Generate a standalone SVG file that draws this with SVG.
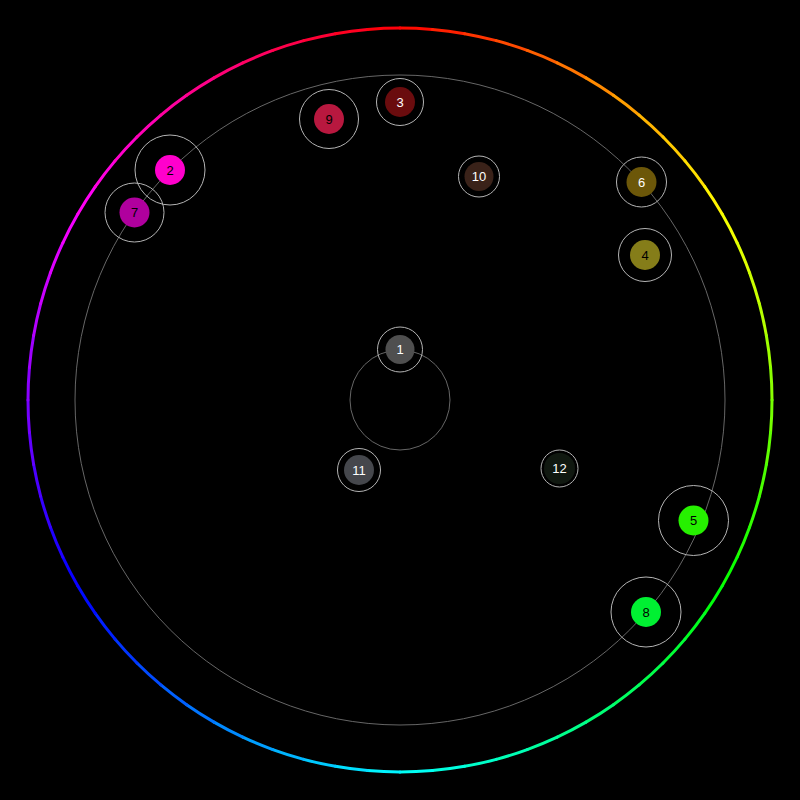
<svg xmlns="http://www.w3.org/2000/svg" width="800" height="800" viewBox="0 0 800 800">
<style>
.hue{fill:none;stroke-width:3;stroke-linecap:round}
.guide{fill:none;stroke:#666;stroke-width:1}
.halo{fill:none;stroke:#b4b4b4;stroke-width:1}
.lbl{font-family:"Liberation Sans",Arial,sans-serif;font-size:13px;text-anchor:middle;dominant-baseline:central}
.dk{fill:#000}
.lt{fill:#fff}
</style>
<rect width="800" height="800" fill="#000"/>
<g id="hue-ring">
<path class="hue" stroke="hsl(2.5,100%,50%)" d="M400 28A372 372 0 0 1 432.42 29.42"/>
<path class="hue" stroke="hsl(7.5,100%,50%)" d="M432.42 29.42A372 372 0 0 1 464.60 33.65"/>
<path class="hue" stroke="hsl(12.5,100%,50%)" d="M464.60 33.65A372 372 0 0 1 496.28 40.67"/>
<path class="hue" stroke="hsl(17.5,100%,50%)" d="M496.28 40.67A372 372 0 0 1 527.23 50.44"/>
<path class="hue" stroke="hsl(22.5,100%,50%)" d="M527.23 50.44A372 372 0 0 1 557.21 62.85"/>
<path class="hue" stroke="hsl(27.5,100%,50%)" d="M557.21 62.85A372 372 0 0 1 586.00 77.84"/>
<path class="hue" stroke="hsl(32.5,100%,50%)" d="M586.00 77.84A372 372 0 0 1 613.37 95.28"/>
<path class="hue" stroke="hsl(37.5,100%,50%)" d="M613.37 95.28A372 372 0 0 1 639.12 115.03"/>
<path class="hue" stroke="hsl(42.5,100%,50%)" d="M639.12 115.03A372 372 0 0 1 663.04 136.96"/>
<path class="hue" stroke="hsl(47.5,100%,50%)" d="M663.04 136.96A372 372 0 0 1 684.97 160.88"/>
<path class="hue" stroke="hsl(52.5,100%,50%)" d="M684.97 160.88A372 372 0 0 1 704.72 186.63"/>
<path class="hue" stroke="hsl(57.5,100%,50%)" d="M704.72 186.63A372 372 0 0 1 722.16 214.00"/>
<path class="hue" stroke="hsl(62.5,100%,50%)" d="M722.16 214.00A372 372 0 0 1 737.15 242.79"/>
<path class="hue" stroke="hsl(67.5,100%,50%)" d="M737.15 242.79A372 372 0 0 1 749.56 272.77"/>
<path class="hue" stroke="hsl(72.5,100%,50%)" d="M749.56 272.77A372 372 0 0 1 759.33 303.72"/>
<path class="hue" stroke="hsl(77.5,100%,50%)" d="M759.33 303.72A372 372 0 0 1 766.35 335.40"/>
<path class="hue" stroke="hsl(82.5,100%,50%)" d="M766.35 335.40A372 372 0 0 1 770.58 367.58"/>
<path class="hue" stroke="hsl(87.5,100%,50%)" d="M770.58 367.58A372 372 0 0 1 772 400"/>
<path class="hue" stroke="hsl(92.5,100%,50%)" d="M772 400A372 372 0 0 1 770.58 432.42"/>
<path class="hue" stroke="hsl(97.5,100%,50%)" d="M770.58 432.42A372 372 0 0 1 766.35 464.60"/>
<path class="hue" stroke="hsl(102.5,100%,50%)" d="M766.35 464.60A372 372 0 0 1 759.33 496.28"/>
<path class="hue" stroke="hsl(107.5,100%,50%)" d="M759.33 496.28A372 372 0 0 1 749.56 527.23"/>
<path class="hue" stroke="hsl(112.5,100%,50%)" d="M749.56 527.23A372 372 0 0 1 737.15 557.21"/>
<path class="hue" stroke="hsl(117.5,100%,50%)" d="M737.15 557.21A372 372 0 0 1 722.16 586.00"/>
<path class="hue" stroke="hsl(122.5,100%,50%)" d="M722.16 586.00A372 372 0 0 1 704.72 613.37"/>
<path class="hue" stroke="hsl(127.5,100%,50%)" d="M704.72 613.37A372 372 0 0 1 684.97 639.12"/>
<path class="hue" stroke="hsl(132.5,100%,50%)" d="M684.97 639.12A372 372 0 0 1 663.04 663.04"/>
<path class="hue" stroke="hsl(137.5,100%,50%)" d="M663.04 663.04A372 372 0 0 1 639.12 684.97"/>
<path class="hue" stroke="hsl(142.5,100%,50%)" d="M639.12 684.97A372 372 0 0 1 613.37 704.72"/>
<path class="hue" stroke="hsl(147.5,100%,50%)" d="M613.37 704.72A372 372 0 0 1 586.00 722.16"/>
<path class="hue" stroke="hsl(152.5,100%,50%)" d="M586.00 722.16A372 372 0 0 1 557.21 737.15"/>
<path class="hue" stroke="hsl(157.5,100%,50%)" d="M557.21 737.15A372 372 0 0 1 527.23 749.56"/>
<path class="hue" stroke="hsl(162.5,100%,50%)" d="M527.23 749.56A372 372 0 0 1 496.28 759.33"/>
<path class="hue" stroke="hsl(167.5,100%,50%)" d="M496.28 759.33A372 372 0 0 1 464.60 766.35"/>
<path class="hue" stroke="hsl(172.5,100%,50%)" d="M464.60 766.35A372 372 0 0 1 432.42 770.58"/>
<path class="hue" stroke="hsl(177.5,100%,50%)" d="M432.42 770.58A372 372 0 0 1 400 772"/>
<path class="hue" stroke="hsl(182.5,100%,50%)" d="M400 772A372 372 0 0 1 367.58 770.58"/>
<path class="hue" stroke="hsl(187.5,100%,50%)" d="M367.58 770.58A372 372 0 0 1 335.40 766.35"/>
<path class="hue" stroke="hsl(192.5,100%,50%)" d="M335.40 766.35A372 372 0 0 1 303.72 759.33"/>
<path class="hue" stroke="hsl(197.5,100%,50%)" d="M303.72 759.33A372 372 0 0 1 272.77 749.56"/>
<path class="hue" stroke="hsl(202.5,100%,50%)" d="M272.77 749.56A372 372 0 0 1 242.79 737.15"/>
<path class="hue" stroke="hsl(207.5,100%,50%)" d="M242.79 737.15A372 372 0 0 1 214.00 722.16"/>
<path class="hue" stroke="hsl(212.5,100%,50%)" d="M214.00 722.16A372 372 0 0 1 186.63 704.72"/>
<path class="hue" stroke="hsl(217.5,100%,50%)" d="M186.63 704.72A372 372 0 0 1 160.88 684.97"/>
<path class="hue" stroke="hsl(222.5,100%,50%)" d="M160.88 684.97A372 372 0 0 1 136.96 663.04"/>
<path class="hue" stroke="hsl(227.5,100%,50%)" d="M136.96 663.04A372 372 0 0 1 115.03 639.12"/>
<path class="hue" stroke="hsl(232.5,100%,50%)" d="M115.03 639.12A372 372 0 0 1 95.28 613.37"/>
<path class="hue" stroke="hsl(237.5,100%,50%)" d="M95.28 613.37A372 372 0 0 1 77.84 586.00"/>
<path class="hue" stroke="hsl(242.5,100%,50%)" d="M77.84 586.00A372 372 0 0 1 62.85 557.21"/>
<path class="hue" stroke="hsl(247.5,100%,50%)" d="M62.85 557.21A372 372 0 0 1 50.44 527.23"/>
<path class="hue" stroke="hsl(252.5,100%,50%)" d="M50.44 527.23A372 372 0 0 1 40.67 496.28"/>
<path class="hue" stroke="hsl(257.5,100%,50%)" d="M40.67 496.28A372 372 0 0 1 33.65 464.60"/>
<path class="hue" stroke="hsl(262.5,100%,50%)" d="M33.65 464.60A372 372 0 0 1 29.42 432.42"/>
<path class="hue" stroke="hsl(267.5,100%,50%)" d="M29.42 432.42A372 372 0 0 1 28 400"/>
<path class="hue" stroke="hsl(272.5,100%,50%)" d="M28 400A372 372 0 0 1 29.42 367.58"/>
<path class="hue" stroke="hsl(277.5,100%,50%)" d="M29.42 367.58A372 372 0 0 1 33.65 335.40"/>
<path class="hue" stroke="hsl(282.5,100%,50%)" d="M33.65 335.40A372 372 0 0 1 40.67 303.72"/>
<path class="hue" stroke="hsl(287.5,100%,50%)" d="M40.67 303.72A372 372 0 0 1 50.44 272.77"/>
<path class="hue" stroke="hsl(292.5,100%,50%)" d="M50.44 272.77A372 372 0 0 1 62.85 242.79"/>
<path class="hue" stroke="hsl(297.5,100%,50%)" d="M62.85 242.79A372 372 0 0 1 77.84 214.00"/>
<path class="hue" stroke="hsl(302.5,100%,50%)" d="M77.84 214.00A372 372 0 0 1 95.28 186.63"/>
<path class="hue" stroke="hsl(307.5,100%,50%)" d="M95.28 186.63A372 372 0 0 1 115.03 160.88"/>
<path class="hue" stroke="hsl(312.5,100%,50%)" d="M115.03 160.88A372 372 0 0 1 136.96 136.96"/>
<path class="hue" stroke="hsl(317.5,100%,50%)" d="M136.96 136.96A372 372 0 0 1 160.88 115.03"/>
<path class="hue" stroke="hsl(322.5,100%,50%)" d="M160.88 115.03A372 372 0 0 1 186.63 95.28"/>
<path class="hue" stroke="hsl(327.5,100%,50%)" d="M186.63 95.28A372 372 0 0 1 214.00 77.84"/>
<path class="hue" stroke="hsl(332.5,100%,50%)" d="M214.00 77.84A372 372 0 0 1 242.79 62.85"/>
<path class="hue" stroke="hsl(337.5,100%,50%)" d="M242.79 62.85A372 372 0 0 1 272.77 50.44"/>
<path class="hue" stroke="hsl(342.5,100%,50%)" d="M272.77 50.44A372 372 0 0 1 303.72 40.67"/>
<path class="hue" stroke="hsl(347.5,100%,50%)" d="M303.72 40.67A372 372 0 0 1 335.40 33.65"/>
<path class="hue" stroke="hsl(352.5,100%,50%)" d="M335.40 33.65A372 372 0 0 1 367.58 29.42"/>
<path class="hue" stroke="hsl(357.5,100%,50%)" d="M367.58 29.42A372 372 0 0 1 400 28"/>
</g>
<g id="connectors">
<circle class="guide" cx="400" cy="400" r="325"/>
<circle class="guide" cx="400" cy="400" r="50"/>
</g>
<g id="n1"><circle class="halo" cx="400" cy="349.5" r="22.5"/><circle cx="400" cy="349.5" r="14.5" fill="#4f4f4f"/><text class="lbl lt" x="400" y="349.5">1</text></g>
<g id="n2"><circle class="halo" cx="170" cy="170" r="35"/><circle cx="170" cy="170" r="15" fill="#ff00cc"/><text class="lbl dk" x="170" y="170">2</text></g>
<g id="n3"><circle class="halo" cx="400" cy="102" r="23.5"/><circle cx="400" cy="102" r="15" fill="#6a0c0e"/><text class="lbl lt" x="400" y="102">3</text></g>
<g id="n4"><circle class="halo" cx="645" cy="255" r="26.5"/><circle cx="645" cy="255" r="15" fill="#857d19"/><text class="lbl dk" x="645" y="255">4</text></g>
<g id="n5"><circle class="halo" cx="693.5" cy="520.5" r="35"/><circle cx="693.5" cy="520.5" r="15" fill="#26f000"/><text class="lbl dk" x="693.5" y="520.5">5</text></g>
<g id="n6"><circle class="halo" cx="641.5" cy="182" r="25"/><circle cx="641.5" cy="182" r="15" fill="#6c5709"/><text class="lbl lt" x="641.5" y="182">6</text></g>
<g id="n7"><circle class="halo" cx="134.5" cy="212.5" r="29.5"/><circle cx="134.5" cy="212.5" r="15" fill="#b0009e"/><text class="lbl dk" x="134.5" y="212.5">7</text></g>
<g id="n8"><circle class="halo" cx="646" cy="612" r="35"/><circle cx="646" cy="612" r="15" fill="#00f032"/><text class="lbl dk" x="646" y="612">8</text></g>
<g id="n9"><circle class="halo" cx="329" cy="119" r="29.5"/><circle cx="329" cy="119" r="15" fill="#b8183f"/><text class="lbl dk" x="329" y="119">9</text></g>
<g id="n10"><circle class="halo" cx="479" cy="176.5" r="20.5"/><circle cx="479" cy="176.5" r="14.5" fill="#3a2219"/><text class="lbl lt" x="479" y="176.5">10</text></g>
<g id="n11"><circle class="halo" cx="359" cy="470" r="21.5"/><circle cx="359" cy="470" r="15" fill="#45474c"/><text class="lbl lt" x="359" y="470">11</text></g>
<g id="n12"><circle class="halo" cx="559.5" cy="468.5" r="18.5"/><circle cx="559.5" cy="468.5" r="15.5" fill="#101810"/><text class="lbl lt" x="559.5" y="468.5">12</text></g>
</svg>
